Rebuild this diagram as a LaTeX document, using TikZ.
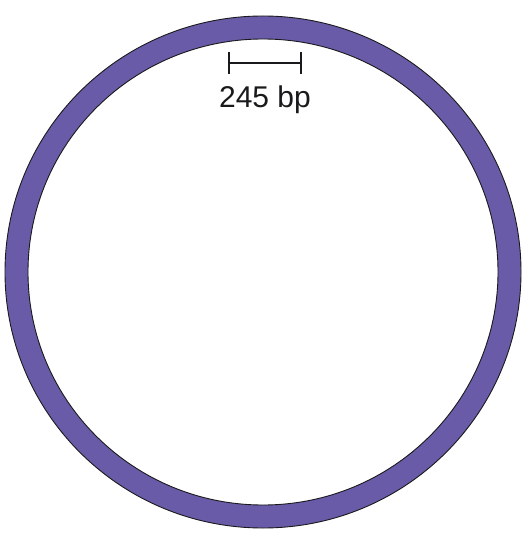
\documentclass[tikz,border=0pt]{standalone}
\usepackage{fontspec}
\setmainfont{Liberation Sans}
\usetikzlibrary{positioning}
\definecolor{plasmid}{HTML}{6A5BA8}
\definecolor{ink}    {HTML}{1A1A1C}

\begin{document}
\begin{tikzpicture}[x=1pt, y=-1pt]
      \useasboundingbox (0,0) rectangle (528,534);
      % ring
      \fill[plasmid, even odd rule] (263,272) ellipse [x radius=258, y radius=256]
                                    (263,272) ellipse [x radius=235, y radius=233];
      \draw[ink, line width=0.9pt] (263,272) ellipse [x radius=258, y radius=256];
      \draw[ink, line width=0.9pt] (263,272) ellipse [x radius=235, y radius=233];
      % scale bar
      \coordinate (barL) at (229,63);
      \coordinate (barR) at (301,63);
      \draw[ink, line width=1.1pt] (barL) -- (barR);
      \draw[ink, line width=1.1pt] ([yshift=-11pt]barL) -- ([yshift=11pt]barL);
      \draw[ink, line width=1.1pt] ([yshift=-11pt]barR) -- ([yshift=11pt]barR);
      \node[font=\fontsize{30}{32}\selectfont, text=ink] (scale) at (265,100) {245 bp};
    \end{tikzpicture}
\end{document}
